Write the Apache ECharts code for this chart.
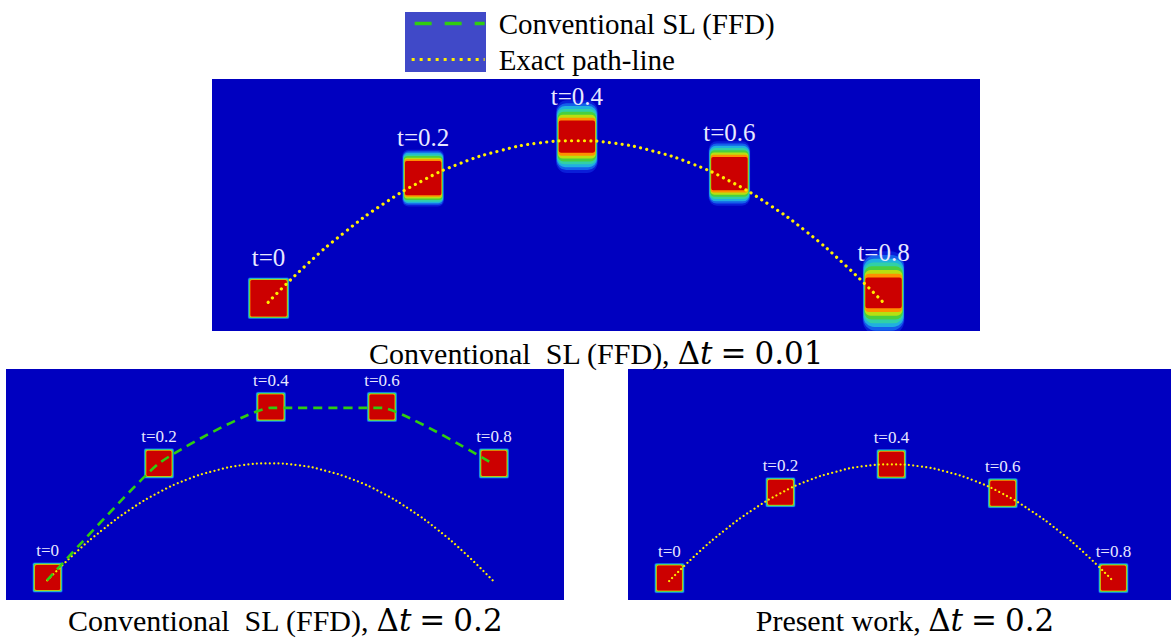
<!DOCTYPE html>
<html>
<head>
<meta charset="utf-8">
<script src="https://cdn.jsdelivr.net/npm/echarts@6/dist/echarts.min.js"></script>
<style>
html,body{margin:0;padding:0;background:#fff;}
#chart{width:1175px;height:638px;}
</style>
</head>
<body>
<div id="chart"></div>
<script>
// ---------------- data ----------------
const timeLabels = ['t=0', 't=0.2', 't=0.4', 't=0.6', 't=0.8'];

// exact path-line (physical x, y)
const exactX = [0.137, 0.231, 0.325, 0.418, 0.512, 0.606, 0.700, 0.793, 0.887, 0.981, 1.075, 1.168, 1.262, 1.356, 1.450, 1.543, 1.637];
const exactY = [0.070, 0.162, 0.242, 0.310, 0.366, 0.409, 0.439, 0.458, 0.464, 0.458, 0.439, 0.409, 0.366, 0.310, 0.242, 0.162, 0.070];

// Conventional SL (FFD), dt = 0.01 : square centres and vertical smearing
const fineX = [0.138, 0.515, 0.890, 1.262, 1.638];
const fineY = [0.080, 0.373, 0.474, 0.384, 0.093];
const fineSpread = [0.000, 0.020, 0.041, 0.030, 0.055];

// Conventional SL (FFD), dt = 0.2 : square centres and computed path
const coarseX = [0.138, 0.513, 0.890, 1.264, 1.641];
const coarseY = [0.080, 0.464, 0.654, 0.654, 0.464];
const coarseSpread = [0, 0, 0, 0, 0];
const coarsePathX = [0.136, 0.513, 0.890, 1.264, 1.638];
const coarsePathY = [0.070, 0.464, 0.651, 0.651, 0.462];

// Present work, dt = 0.2 : square centres
const presentX = [0.138, 0.513, 0.888, 1.264, 1.638];
const presentY = [0.080, 0.370, 0.465, 0.367, 0.080];
const presentSpread = [0, 0, 0, 0, 0];

// ---------------- styles ----------------
const BG = '#0000c0';
const SERIF = '"Liberation Serif", "Times New Roman", serif';
const MATH = '"DejaVu Serif", serif';
const SIDE = 0.1;          // square side in domain units
const EDGE_EXT = 0.5;      // px
const EDGE_RAMP = 3;       // px
const SPREAD_RAMP = 1.2;
const LABEL_COLOR = '#e8e8ff';
const LEVELS = [
  { v: 0.0625, c: '#0a1ed8' },
  { v: 0.1875, c: '#1460ea' },
  { v: 0.3125, c: '#20b0e0' },
  { v: 0.4375, c: '#30d0a8' },
  { v: 0.5625, c: '#48d040' },
  { v: 0.6875, c: '#b8e010' },
  { v: 0.8125, c: '#ff9000' },
  { v: 0.9375, c: '#cc0000' }
];
const YELLOW = '#ffee00';
const GREEN = '#30cc10';

function pairs(xs, ys) { return xs.map(function (x, i) { return [x, ys[i]]; }); }
function triples(xs, ys, ss) { return xs.map(function (x, i) { return [x, ys[i], ss[i]]; }); }

function makeSquareRenderer(labels, labelOffset, fontSize) {
  return function (params, api) {
    const p = api.coord([api.value(0), api.value(1)]);
    const u = api.size([1, 1]);
    const sp = api.value(2) * u[1];
    const halfX = SIDE / 2 * u[0] + EDGE_EXT;
    const outerY = SIDE / 2 * u[1] + EDGE_EXT + sp;
    const rampY = EDGE_RAMP + SPREAD_RAMP * sp;
    const children = LEVELS.map(function (lv) {
      const hw = halfX - lv.v * EDGE_RAMP;
      const hh = outerY - lv.v * rampY;
      const r = Math.max(0, Math.min(1.5 + (1 - lv.v) * sp * 0.6, hw, hh));
      return {
        type: 'rect',
        shape: { x: p[0] - hw, y: p[1] - hh, width: 2 * hw, height: 2 * hh, r: r },
        style: { fill: lv.c }
      };
    });
    children.push({
      type: 'text',
      style: {
        text: labels[params.dataIndex],
        x: p[0], y: p[1] - labelOffset * u[1],
        align: 'center', verticalAlign: 'middle',
        fill: LABEL_COLOR,
        fontSize: fontSize,
        fontFamily: SERIF
      }
    });
    return { type: 'group', children: children };
  };
}

const chart = echarts.init(document.getElementById('chart'), null, { renderer: 'svg' });

const gridBase = { show: true, backgroundColor: BG, borderWidth: 0, containLabel: false };
const axisBase = { type: 'value', show: false, splitLine: { show: false } };

const capRich = {
  r: { fontFamily: SERIF, fontSize: 30, color: '#000', lineHeight: 34 },
  m: { fontFamily: MATH, fontSize: 31, color: '#000', lineHeight: 34 },
  i: { fontFamily: MATH, fontStyle: 'italic', fontSize: 31, color: '#000', lineHeight: 34 },
  e: { fontFamily: MATH, fontSize: 31, color: '#000', lineHeight: 34, padding: [0, 8, 0, 8] }
};

const option = {
  animation: false,
  backgroundColor: '#fff',
  grid: [
    Object.assign({ left: 212, top: 79, width: 768, height: 252 }, gridBase),
    Object.assign({ left: 6, top: 369, width: 558, height: 231 }, gridBase),
    Object.assign({ left: 628, top: 369, width: 543, height: 231 }, gridBase)
  ],
  xAxis: [
    Object.assign({ gridIndex: 0, min: 0, max: 1.8732 }, axisBase),
    Object.assign({ gridIndex: 1, min: -0.002, max: 1.877 }, axisBase),
    Object.assign({ gridIndex: 2, min: -0.002, max: 1.8325 }, axisBase)
  ],
  yAxis: [
    Object.assign({ gridIndex: 0, min: 0, max: 0.6146 }, axisBase),
    Object.assign({ gridIndex: 1, min: 0.004, max: 0.7818 }, axisBase),
    Object.assign({ gridIndex: 2, min: 0.006, max: 0.7864 }, axisBase)
  ],
  legend: {
    left: 405, top: 4, orient: 'vertical', z: 5,
    itemWidth: 73, itemHeight: 29, itemGap: 7,
    selectedMode: false,
    textStyle: { fontFamily: SERIF, fontSize: 29, color: '#000', padding: [0, 0, 0, 9] },
    data: [
      { name: 'Conventional SL (FFD)', itemStyle: { opacity: 0 }, lineStyle: { color: GREEN, width: 3.3, type: [17, 13], dashOffset: -3, cap: 'butt' } },
      { name: 'Exact path-line', itemStyle: { opacity: 0 }, lineStyle: { color: YELLOW, width: 3, type: [3, 5], cap: 'butt' } }
    ]
  },
  graphic: [
    { type: 'rect', z: 1, shape: { x: 405, y: 12, width: 81, height: 60 }, style: { fill: '#4049c8' } },
    { type: 'text', x: 596, y: 353, style: { text: '{r|Conventional  SL (FFD), }{m|Δ}{i|t}{e|=}{m|0.01}', rich: capRich, align: 'center', verticalAlign: 'middle' } },
    { type: 'text', x: 285, y: 620, style: { text: '{r|Conventional  SL (FFD), }{m|Δ}{i|t}{e|=}{m|0.2}', rich: capRich, align: 'center', verticalAlign: 'middle' } },
    { type: 'text', x: 905, y: 620, style: { text: '{r|Present work, }{m|Δ}{i|t}{e|=}{m|0.2}', rich: capRich, align: 'center', verticalAlign: 'middle' } }
  ],
  series: [
    {
      type: 'custom', xAxisIndex: 0, yAxisIndex: 0, clip: true, silent: true, z: 2,
      data: triples(fineX, fineY, fineSpread),
      encode: { x: 0, y: 1 },
      renderItem: makeSquareRenderer(timeLabels, 0.099, 25)
    },
    {
      type: 'line', name: 'Exact path-line', xAxisIndex: 0, yAxisIndex: 0, z: 3,
      data: pairs(exactX, exactY), smooth: true, symbol: 'none', silent: true,
      lineStyle: { color: YELLOW, width: 3.2, type: [0.01, 6.3], cap: 'round' }
    },
    {
      type: 'custom', xAxisIndex: 1, yAxisIndex: 1, clip: true, silent: true, z: 2,
      data: triples(coarseX, coarseY, coarseSpread),
      encode: { x: 0, y: 1 },
      renderItem: makeSquareRenderer(timeLabels, 0.090, 17)
    },
    {
      type: 'line', name: 'Exact path-line', xAxisIndex: 1, yAxisIndex: 1, z: 3,
      data: pairs(exactX, exactY), smooth: true, symbol: 'none', silent: true,
      lineStyle: { color: YELLOW, width: 2.2, type: [0.01, 4.3], cap: 'round' }
    },
    {
      type: 'line', name: 'Conventional SL (FFD)', xAxisIndex: 1, yAxisIndex: 1, z: 4,
      data: pairs(coarsePathX, coarsePathY), smooth: 0.15, symbol: 'none', silent: true,
      lineStyle: { color: GREEN, width: 2.6, type: [9, 6] }
    },
    {
      type: 'custom', xAxisIndex: 2, yAxisIndex: 2, clip: true, silent: true, z: 2,
      data: triples(presentX, presentY, presentSpread),
      encode: { x: 0, y: 1 },
      renderItem: makeSquareRenderer(timeLabels, 0.090, 17)
    },
    {
      type: 'line', name: 'Exact path-line', xAxisIndex: 2, yAxisIndex: 2, z: 3,
      data: pairs(exactX, exactY), smooth: true, symbol: 'none', silent: true,
      lineStyle: { color: YELLOW, width: 2.2, type: [0.01, 4.3], cap: 'round' }
    }
  ]
};
chart.setOption(option);
</script>
</body>
</html>
